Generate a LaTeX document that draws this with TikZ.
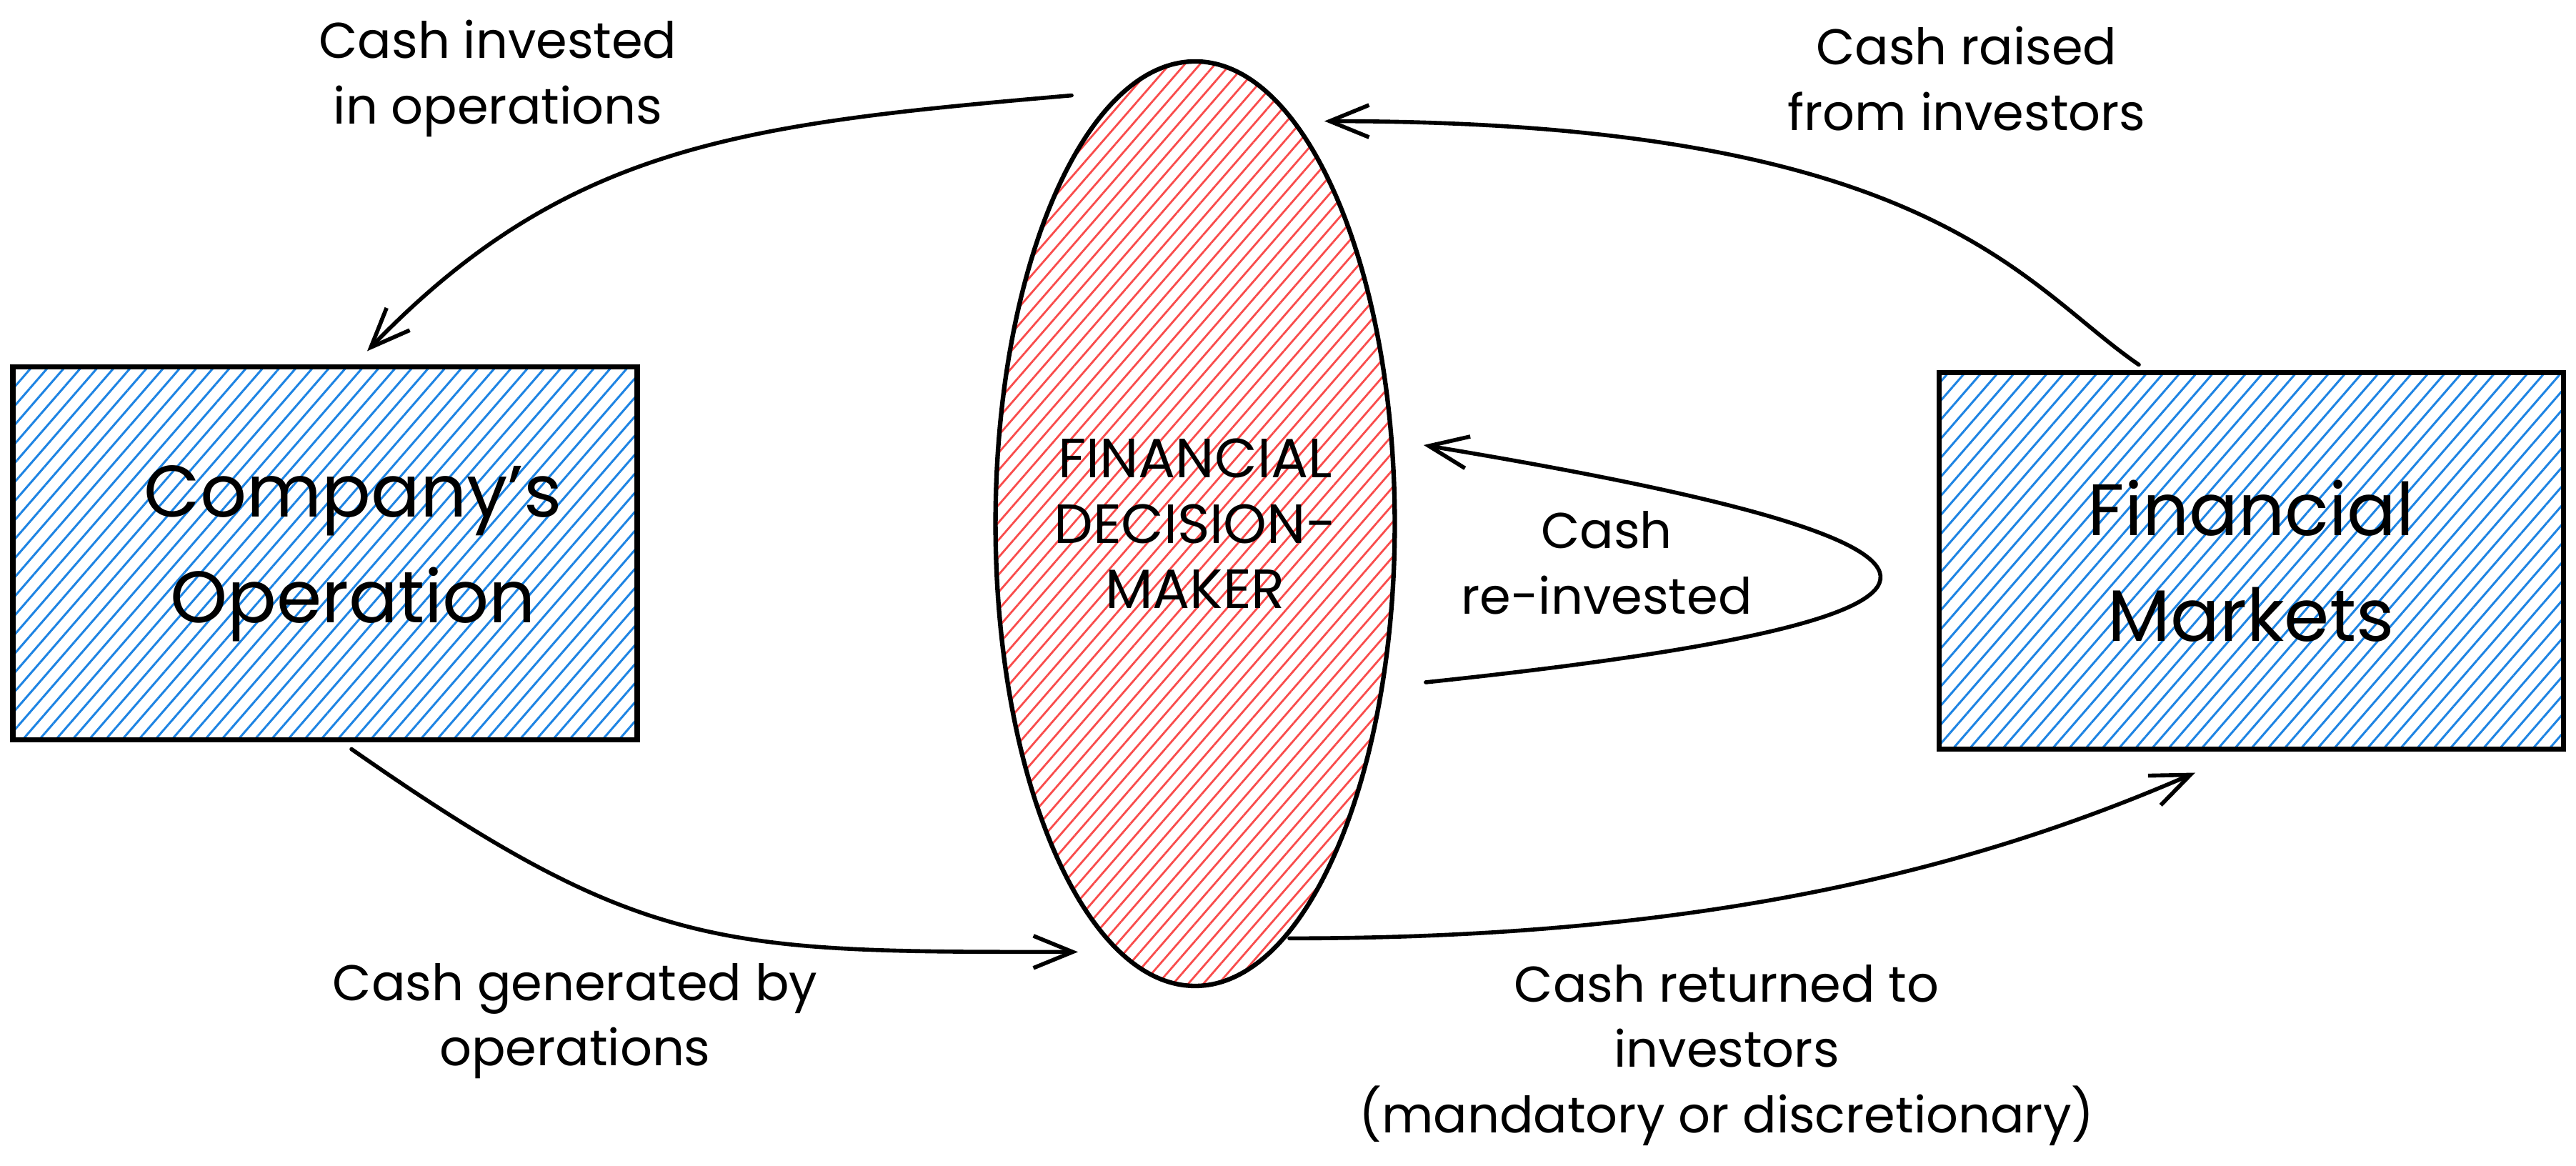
\documentclass[tikz,border=0pt]{standalone}
\usepackage{fontspec}
\setmainfont{Poppins}
\usetikzlibrary{shapes.geometric,patterns.meta,arrows.meta}

\definecolor{hatchblue}{HTML}{1E84E3}
\definecolor{hatchred}{HTML}{F94C4C}

\newcommand\bigtxt{\fontsize{29}{42}\selectfont}
\newcommand\lbltxt{\fontsize{20}{26}\selectfont}
\newcommand\captxt{\fontsize{22}{26}\selectfont}

\tikzset{
  hatchbox/.style={draw, line width=2pt, minimum width=8.74cm, minimum height=5.22cm,
    pattern={Lines[angle=49,distance=1.75mm,line width=0.3mm]}, pattern color=hatchblue},
  decider/.style={ellipse, draw, line width=1.8pt, minimum width=5.28cm, minimum height=12.94cm,
    inner sep=0pt, pattern={Lines[angle=49,distance=1.6mm,line width=0.28mm]}, pattern color=hatchred,
    align=center, font=\captxt},
  lbl/.style={align=center, font=\lbltxt},
  flow/.style={line width=1.6pt, line cap=round, -{Straight Barb[length=5.5mm,width=4.5mm]}},
}

\begin{document}
\begin{tikzpicture}
  \useasboundingbox (0,0) rectangle (36.06,16.32);

  % the three blocks
  \node[hatchbox] (ops) at (4.55,8.57) {};
  \node[font=\bigtxt, align=center] (ops-txt) at ([xshift=0.39cm]ops.center) {Company's\\Operation};
  \node[hatchbox, minimum height=5.27cm, font=\bigtxt, align=center] (mkt) at (31.51,8.465) {Financial\\Markets};
  \node[decider] (dm) at (16.73,8.99) {FINANCIAL\\DECISION-\\MAKER};

  % cash flows
  \draw[flow] ([xshift=-1.73cm,yshift=-0.49cm]dm.north) .. controls +(-4.6,-0.4) and +(2.8,2.9) .. ([xshift=0.59cm,yshift=0.21cm]ops.north);
  \draw[flow] ([xshift=-1.57cm,yshift=0.08cm]mkt.north) .. controls +(-1.65,1.13) and +(8.5,0) .. ([xshift=1.81cm,yshift=-0.85cm]dm.north);
  \draw[flow] ([xshift=0.42cm,yshift=-2.22cm]dm.east) .. controls +(9.23,0.97) and +(7.72,-1.28) .. ([xshift=0.39cm,yshift=1.10cm]dm.east);
  \draw[flow] ([xshift=0.37cm,yshift=-0.11cm]ops.south) .. controls +(4.1,-2.86) and +(-5,0) .. ([xshift=-1.64cm,yshift=0.49cm]dm.south);
  \draw[flow] ([xshift=1.32cm,yshift=0.68cm]dm.south) .. controls +(5.95,0) and +(-3.0,-1.3) .. ([xshift=-0.78cm,yshift=-0.29cm]mkt.south);

  % labels
  \node[lbl] (inv-lbl) at (6.97,15.22) {Cash invested\\in operations};
  \node[lbl] (raise-lbl) at (27.53,15.22) {Cash raised\\from investors};
  \node[lbl] (reinv-lbl) at (22.49,8.44) {Cash\\re-invested};
  \node[lbl] (gen-lbl) at (8.05,2.03) {Cash generated by\\operations};
  \node[lbl] (ret-lbl) at (24.17,1.55) {Cash returned to\\investors\\(mandatory or discretionary)};
\end{tikzpicture}
\end{document}
